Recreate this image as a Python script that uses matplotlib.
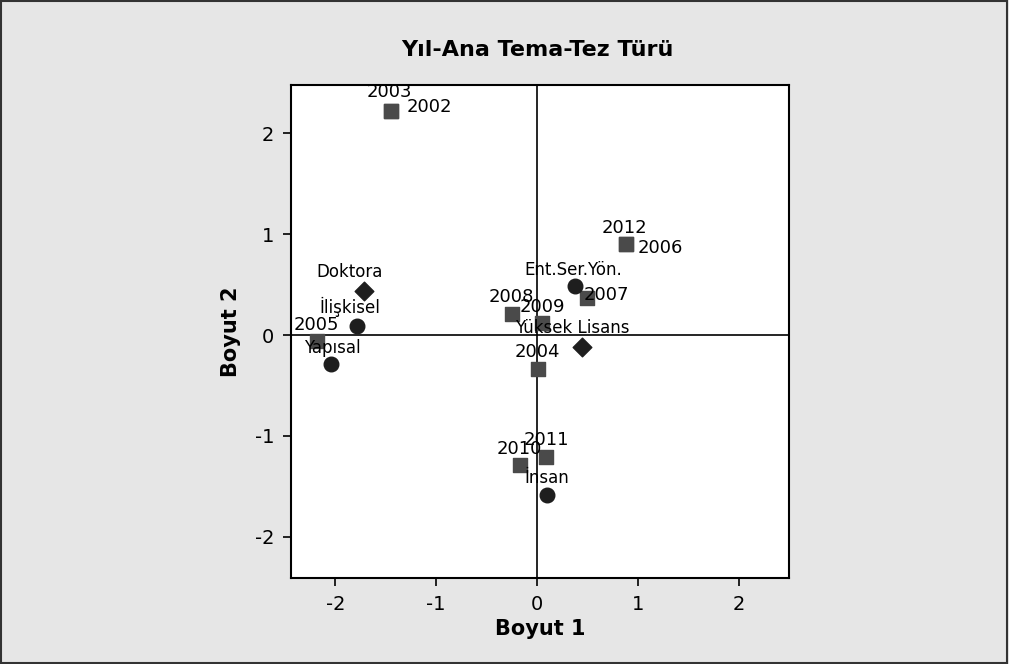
import matplotlib.pyplot as plt
from matplotlib.patches import Rectangle

plt.rcParams["axes.unicode_minus"] = False

# years (square markers)
years = ["2003", "2002", "2012", "2006", "2007", "2008", "2009", "2004", "2005", "2010", "2011"]
year_x = [-1.45, -1.45, 0.88, 0.88, 0.50, -0.25, 0.05, 0.01, -2.18, -0.17, 0.09]
year_y = [2.22, 2.22, 0.90, 0.90, 0.37, 0.21, 0.12, -0.34, -0.06, -1.29, -1.21]

# main themes (circle markers)
themes = ["Ent.Ser.Yön.", "İlişkisel", "Yapısal", "İnsan"]
theme_x = [0.38, -1.79, -2.04, 0.10]
theme_y = [0.49, 0.09, -0.29, -1.59]

# thesis types (diamond markers)
types = ["Doktora", "Yüksek Lisans"]
type_x = [-1.72, 0.45]
type_y = [0.44, -0.12]

# label offsets in pixels (dx, dy, ha), text centred vertically
year_off = [(-1, 19, "center"), (16, 4, "left"), (-1, 16, "center"), (12, -4, "left"),
            (-4, 3, "left"), (0, 17, "center"), (0, 16, "center"), (-1, 17, "center"),
            (-1, 16, "center"), (-1, 16, "center"), (0, 17, "center")]
theme_off = [(-2, 16, "center"), (-7, 19, "center"), (1, 16, "center"), (0, 17, "center")]
type_off = [(-14, 19, "center"), (-10, 19, "center")]

fig = plt.figure(figsize=(10.09, 6.64), dpi=100, facecolor="#e6e6e6")
ax = fig.add_axes([291 / 1009, 1 - 578 / 664, 498 / 1009, 493 / 664])
fig.patches.append(Rectangle((0.001, 0.001), 0.997, 0.997, transform=fig.transFigure,
                             fill=False, edgecolor="#333333", linewidth=1.5))

ax.axhline(0, color="black", lw=1.2, zorder=1)
ax.axvline(0, color="black", lw=1.2, zorder=1)

ax.scatter(year_x, year_y, marker="s", s=110, color="#4a4a4a", zorder=3)
ax.scatter(theme_x, theme_y, marker="o", s=110, color="#1e1e1e", zorder=3)
ax.scatter(type_x, type_y, marker="D", s=90, color="#1e1e1e", zorder=3)

for lbl, x, y, (dx, dy, ha) in zip(years, year_x, year_y, year_off):
    ax.annotate(lbl, (x, y), xytext=(dx, dy), textcoords="offset pixels",
                ha=ha, va="center", fontsize=13, zorder=4)
for lbl, x, y, (dx, dy, ha) in zip(themes, theme_x, theme_y, theme_off):
    ax.annotate(lbl, (x, y), xytext=(dx, dy), textcoords="offset pixels",
                ha=ha, va="center", fontsize=12, zorder=4)
for lbl, x, y, (dx, dy, ha) in zip(types, type_x, type_y, type_off):
    ax.annotate(lbl, (x, y), xytext=(dx, dy), textcoords="offset pixels",
                ha=ha, va="center", fontsize=12, zorder=4)

ax.set_xlim(-2.44, 2.5)
ax.set_ylim(-2.41, 2.48)
ax.set_xticks([-2, -1, 0, 1, 2])
ax.set_yticks([-2, -1, 0, 1, 2])
ax.tick_params(direction="out", length=6, width=1.2, labelsize=14, pad=6)
for sp in ax.spines.values():
    sp.set_linewidth(1.5)

ax.set_xlabel("Boyut 1", fontsize=15, fontweight="bold", labelpad=4)
ax.set_ylabel("Boyut 2", fontsize=15, fontweight="bold", labelpad=10)
fig.text(537 / 1009, 1 - 50 / 664, "Yıl-Ana Tema-Tez Türü", ha="center", va="center",
         fontsize=16, fontweight="bold")

fig.savefig("out.png", dpi=100, facecolor=fig.get_facecolor())
